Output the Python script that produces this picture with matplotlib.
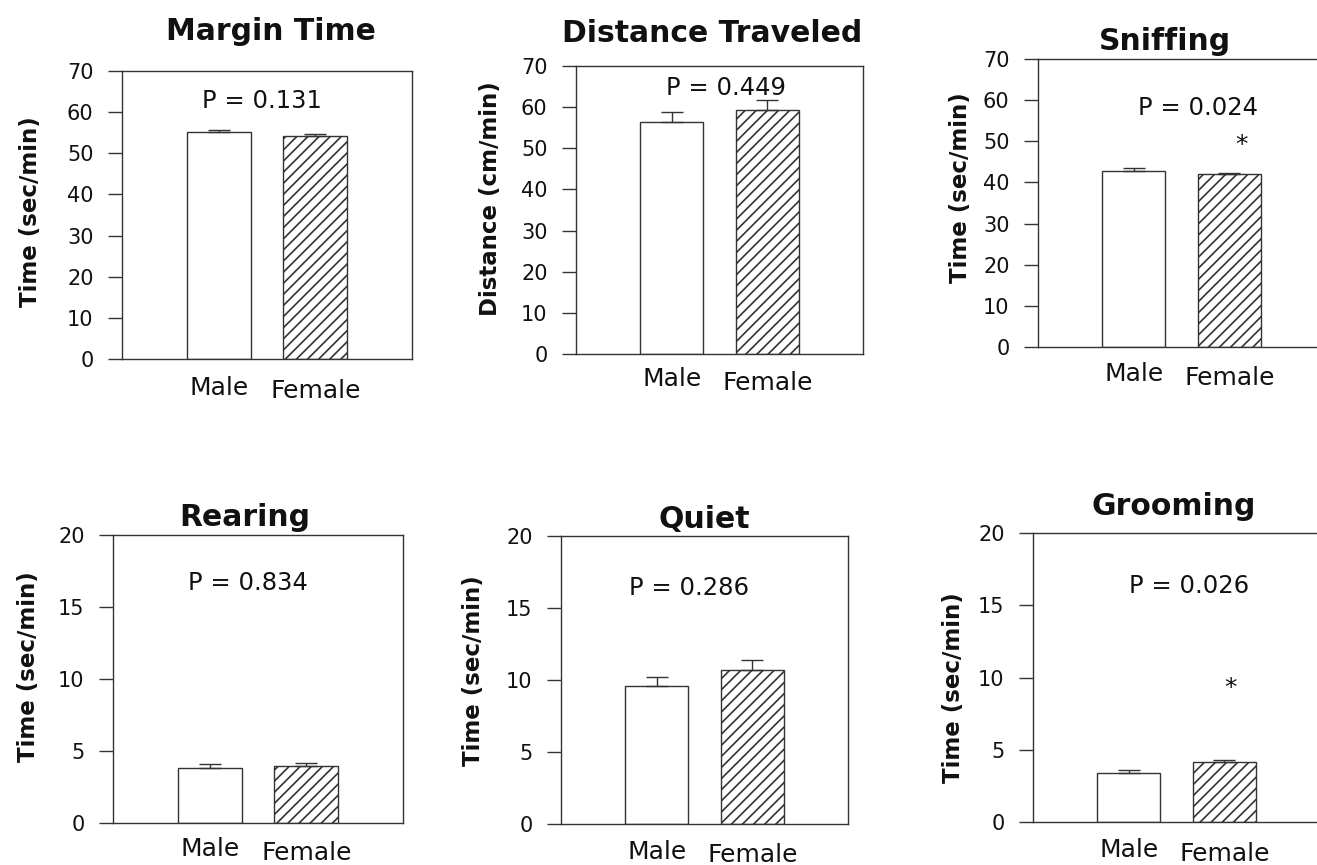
import numpy as np
import matplotlib
matplotlib.use('Agg')
import matplotlib.pyplot as plt
import matplotlib.transforms as mtransforms

# ---- data ----
titles = ["Margin Time", "Distance Traveled", "Sniffing",
          "Rearing", "Quiet", "Grooming"]
ylabels = ["Time (sec/min)", "Distance (cm/min)", "Time (sec/min)",
           "Time (sec/min)", "Time (sec/min)", "Time (sec/min)"]
groups = ["Male", "Female"]
male_means = [55.2, 56.5, 42.8, 3.84, 9.61, 3.41]
female_means = [54.2, 59.2, 42.0, 3.96, 10.72, 4.13]
male_err = [0.45, 2.3, 0.6, 0.23, 0.61, 0.19]
female_err = [0.4, 2.5, 0.25, 0.19, 0.70, 0.16]
p_values = ["0.131", "0.449", "0.024", "0.834", "0.286", "0.026"]
significant = [False, False, True, False, False, True]
y_max = [70, 70, 70, 20, 20, 20]
y_step = [10, 10, 10, 5, 5, 5]

# ---- layout (pixels in the 1317x865 figure) ----
W, H = 1317, 865
# left, top, right, bottom of each axes box
boxes = [(122, 71, 412, 359), (576, 66, 863, 354), (1038, 59, 1325, 347),
         (113, 535, 403, 823), (561, 536, 848, 824), (1033, 533, 1320, 822)]
title_pos = [(271, 40), (712, 42), (1165, 50),
             (245, 526), (704, 528), (1174, 515)]     # center x, baseline y
ylabel_pos = [(42, 212), (502, 199), (972, 188),
              (40, 667), (485, 671), (965, 688)]      # right edge x, center y
p_pos = [(0.45, 60.9), (0.57, 62.95), (0.67, 56.4),
         (0.40, 16.18), (0.34, 15.9), (0.63, 15.85)]  # data coords, baseline
star_pos = [None, None, (1.13, 47.3), None, None, (1.06, 8.8)]
xtick_pad = [12, 9.4, 10.8, 10, 11.2, 11.6]

TEXT = '#111111'
EDGE = '#333333'

plt.rcParams['hatch.color'] = EDGE
plt.rcParams['hatch.linewidth'] = 1.2
plt.rcParams['text.color'] = TEXT

fig = plt.figure(figsize=(W / 100, H / 100), dpi=100)

for i in range(6):
    l, t, r, b = boxes[i]
    ax = fig.add_axes([l / W, 1 - b / H, (r - l) / W, (b - t) / H])
    err_kw = dict(ecolor=EDGE, elinewidth=1, capthick=1)
    ax.bar(0, male_means[i], width=0.66, color='white', edgecolor=EDGE,
           linewidth=1, yerr=[[0], [male_err[i]]], capsize=8,
           error_kw=err_kw, zorder=2)
    ax.bar(1, female_means[i], width=0.66, color='white', edgecolor=EDGE,
           linewidth=1, hatch='///', yerr=[[0], [female_err[i]]], capsize=8,
           error_kw=err_kw, zorder=2)

    ax.set_xlim(-1, 2)
    ax.set_ylim(0, y_max[i])
    ax.set_yticks(np.arange(0, y_max[i] + 1, y_step[i]))
    ax.set_xticks([0, 1], groups)
    ax.tick_params(axis='y', direction='out', length=10, width=1,
                   color=EDGE, labelsize=15, pad=10.5, labelcolor=TEXT)
    ax.tick_params(axis='x', length=0, labelsize=18, pad=xtick_pad[i],
                   labelcolor=TEXT)
    for s in ax.spines.values():
        s.set_color(EDGE)
        s.set_linewidth(1)

    # the scanned "Female" label sits a little lower than "Male"
    lab = ax.get_xticklabels()[1]
    lab.set_transform(lab.get_transform() +
                      mtransforms.ScaledTranslation(0, -2.7 / 72,
                                                    fig.dpi_scale_trans))

    tx, ty = title_pos[i]
    ax.set_title(titles[i], x=(tx - l) / (r - l), y=1 + (t - ty) / (b - t),
                 pad=0, fontsize=21.5, fontweight='bold', color=TEXT)

    ax.set_ylabel(ylabels[i], fontsize=16.5, fontweight='bold', color=TEXT)
    lx, ly = ylabel_pos[i]
    ax.yaxis.set_label_coords((lx - l) / (r - l), (b - ly) / (b - t))

    px, py = p_pos[i]
    ax.text(px, py, "P = " + p_values[i], ha='center', va='baseline',
            fontsize=17.5, color=TEXT)
    if significant[i]:
        sx, sy = star_pos[i]
        ax.text(sx, sy, "*", ha='center', va='baseline', fontsize=18,
                color=TEXT)

fig.savefig('out.png', dpi=100)
